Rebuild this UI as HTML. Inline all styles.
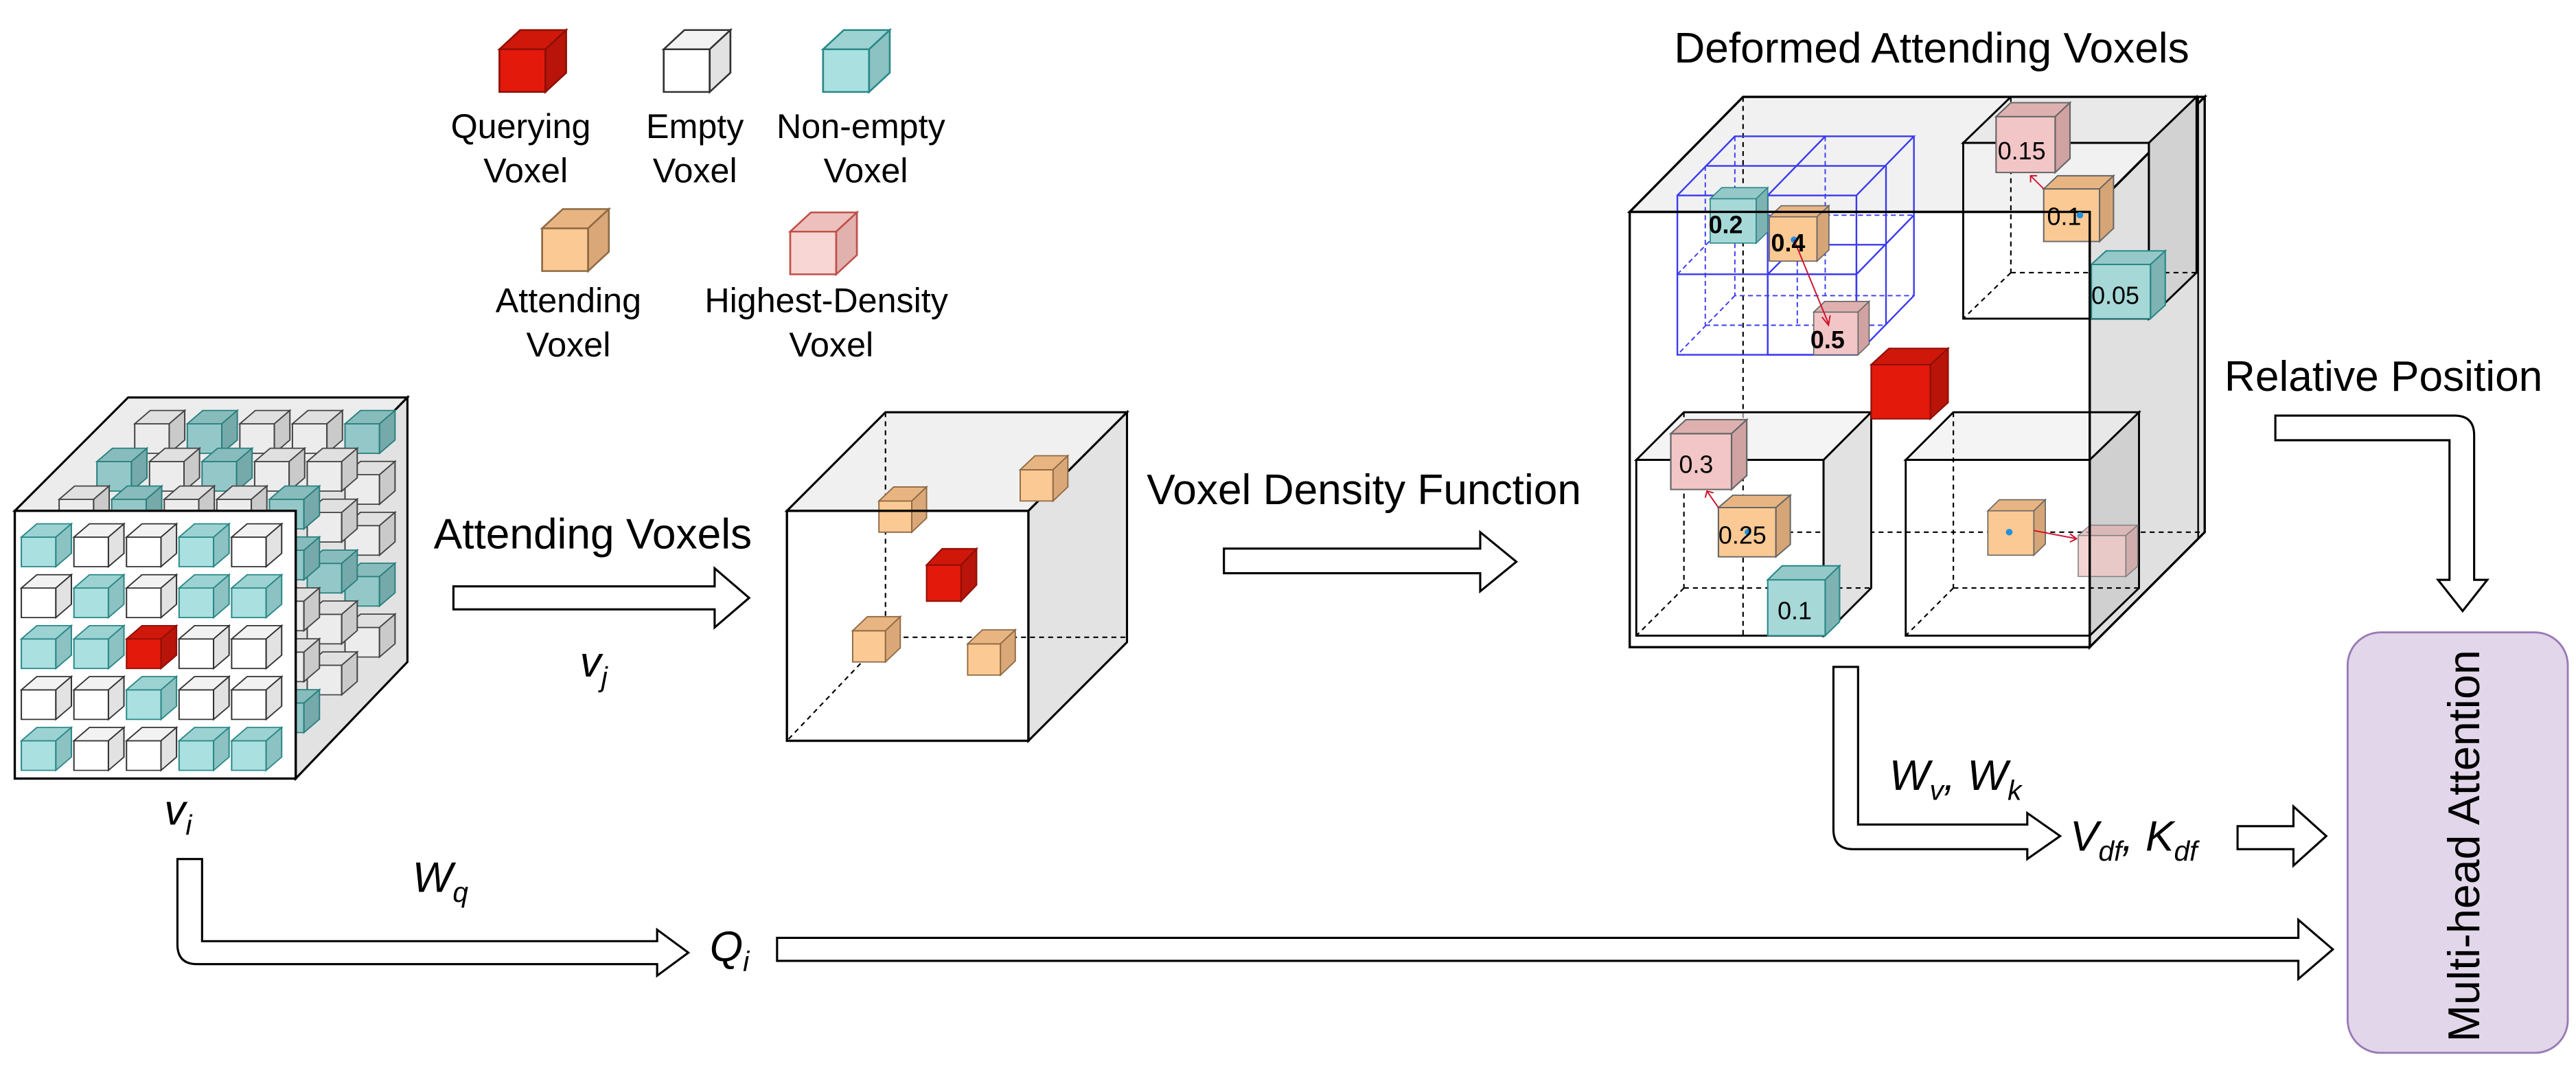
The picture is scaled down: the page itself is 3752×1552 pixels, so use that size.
<!DOCTYPE html>
<html><head><meta charset="utf-8"><style>
html,body{margin:0;padding:0;background:#fff}
svg{display:block}
text{font-family:"Liberation Sans",sans-serif;fill:#000}
</style></head><body>
<svg width="3752" height="1552" viewBox="0 0 1568 649" preserveAspectRatio="none" xmlns="http://www.w3.org/2000/svg">
<defs>
<g id="R" stroke="#8e0f06" stroke-width="0.8"><path d="M0 0h20v20H0z" fill="#e3190b"/><path d="M0 0l9-9h20l-9 9z" fill="#cf170a"/><path d="M20 0l9-9v20l-9 9z" fill="#b8140a"/></g>
<g id="W" stroke="#333" stroke-width="0.8"><path d="M0 0h20v20H0z" fill="#fff"/><path d="M0 0l9-9h20l-9 9z" fill="#f2f2f2"/><path d="M20 0l9-9v20l-9 9z" fill="#e2e2e2"/></g>
<g id="G" stroke="#444" stroke-width="0.8"><path d="M0 0h20v20H0z" fill="#ececec"/><path d="M0 0l9-9h20l-9 9z" fill="#e0e0e0"/><path d="M20 0l9-9v20l-9 9z" fill="#cacaca"/></g>
<g id="T" stroke="#2a8888" stroke-width="0.8"><path d="M0 0h20v20H0z" fill="#abe0e0"/><path d="M0 0l9-9h20l-9 9z" fill="#9dd2d2"/><path d="M20 0l9-9v20l-9 9z" fill="#8cc2c2"/></g>
<g id="TB" stroke="#2a7f7f" stroke-width="0.8"><path d="M0 0h20v20H0z" fill="#94c8c8"/><path d="M0 0l9-9h20l-9 9z" fill="#88bcbc"/><path d="M20 0l9-9v20l-9 9z" fill="#76a9a9"/></g>
<g id="O" stroke="#8f6a44" stroke-width="0.8"><path d="M0 0h20v20H0z" fill="#fbc993"/><path d="M0 0l9-9h20l-9 9z" fill="#e8b582"/><path d="M20 0l9-9v20l-9 9z" fill="#daa878"/></g>
<g id="P" stroke="#c0504a" stroke-width="0.8"><path d="M0 0h20v20H0z" fill="#f8d6d3"/><path d="M0 0l9-9h20l-9 9z" fill="#eec0bd"/><path d="M20 0l9-9v20l-9 9z" fill="#e0b1ad"/></g>
<g id="R2" stroke="#8e0f06" stroke-width="0.5"><path d="M0 0h20v20H0z" fill="#e3190b"/><path d="M0 0l6-6h20l-6 6z" fill="#cf170a"/><path d="M20 0l6-6v20l-6 6z" fill="#b8140a"/></g>
<g id="T2" stroke="#2a8888" stroke-width="0.5"><path d="M0 0h20v20H0z" fill="#a6d8d8"/><path d="M0 0l5-5h20l-5 5z" fill="#95c8c8"/><path d="M20 0l5-5v20l-5 5z" fill="#7fb2b2"/></g>
<g id="O2" stroke="#666" stroke-width="0.5"><path d="M0 0h20v20H0z" fill="#fbc993"/><path d="M0 0l5-5h20l-5 5z" fill="#e8b582"/><path d="M20 0l5-5v20l-5 5z" fill="#d6a577"/></g>
<g id="P2" stroke="#666" stroke-width="0.5"><path d="M0 0h20v20H0z" fill="#f2c6c6"/><path d="M0 0l5-5h20l-5 5z" fill="#dfb0b0"/><path d="M20 0l5-5v20l-5 5z" fill="#d1a2a2"/></g>
</defs>

<!-- Legend -->
<use href="#R" transform="translate(304,30) scale(1.4,1.3)"/>
<use href="#W" transform="translate(404,30) scale(1.4,1.3)"/>
<use href="#T" transform="translate(501,30) scale(1.4,1.3)"/>
<use href="#O" transform="translate(330,139) scale(1.4,1.3)"/>
<use href="#P" transform="translate(481,141) scale(1.4,1.3)"/>
<g font-size="21" text-anchor="middle">
<text x="317" y="84">Querying</text><text x="320" y="111">Voxel</text>
<text x="423" y="84">Empty</text><text x="423" y="111">Voxel</text>
<text x="524" y="84">Non-empty</text><text x="527" y="111">Voxel</text>
<text x="346" y="190">Attending</text><text x="346" y="217">Voxel</text>
<text x="503" y="190">Highest-Density</text><text x="506" y="217">Voxel</text>
</g>

<!-- Left big cube -->
<polygon points="9,311 78,242 248,242 180,311" fill="#ececec" stroke="#000" stroke-width="1.3"/>
<polygon points="180,311 248,242 248,403 180,474" fill="#e2e2e2" stroke="#000" stroke-width="1.3"/>
<g transform="translate(69,-69)">
<use href="#G" transform="translate(13,327) scale(1.05,0.9)"/><use href="#TB" transform="translate(45,327) scale(1.05,0.9)"/><use href="#G" transform="translate(77,327) scale(1.05,0.9)"/><use href="#G" transform="translate(109,327) scale(1.05,0.9)"/><use href="#TB" transform="translate(141,327) scale(1.05,0.9)"/>
<use href="#G" transform="translate(141,358) scale(1.05,0.9)"/><use href="#G" transform="translate(141,389) scale(1.05,0.9)"/><use href="#TB" transform="translate(141,420) scale(1.05,0.9)"/><use href="#G" transform="translate(141,451) scale(1.05,0.9)"/>
</g>
<g transform="translate(46,-46)">
<use href="#TB" transform="translate(13,327) scale(1.05,0.9)"/><use href="#G" transform="translate(45,327) scale(1.05,0.9)"/><use href="#TB" transform="translate(77,327) scale(1.05,0.9)"/><use href="#G" transform="translate(109,327) scale(1.05,0.9)"/><use href="#G" transform="translate(141,327) scale(1.05,0.9)"/>
<use href="#G" transform="translate(141,358) scale(1.05,0.9)"/><use href="#TB" transform="translate(141,389) scale(1.05,0.9)"/><use href="#G" transform="translate(141,420) scale(1.05,0.9)"/><use href="#G" transform="translate(141,451) scale(1.05,0.9)"/>
</g>
<g transform="translate(23,-23)">
<use href="#G" transform="translate(13,327) scale(1.05,0.9)"/><use href="#TB" transform="translate(45,327) scale(1.05,0.9)"/><use href="#G" transform="translate(77,327) scale(1.05,0.9)"/><use href="#G" transform="translate(109,327) scale(1.05,0.9)"/><use href="#TB" transform="translate(141,327) scale(1.05,0.9)"/>
<use href="#TB" transform="translate(141,358) scale(1.05,0.9)"/><use href="#G" transform="translate(141,389) scale(1.05,0.9)"/><use href="#G" transform="translate(141,420) scale(1.05,0.9)"/><use href="#TB" transform="translate(141,451) scale(1.05,0.9)"/>
</g>
<rect x="9" y="311" width="171" height="163" fill="#fff" stroke="none"/>
<g>
<use href="#T" transform="translate(13,327) scale(1.05,0.9)"/><use href="#W" transform="translate(45,327) scale(1.05,0.9)"/><use href="#W" transform="translate(77,327) scale(1.05,0.9)"/><use href="#T" transform="translate(109,327) scale(1.05,0.9)"/><use href="#W" transform="translate(141,327) scale(1.05,0.9)"/>
<use href="#W" transform="translate(13,358) scale(1.05,0.9)"/><use href="#T" transform="translate(45,358) scale(1.05,0.9)"/><use href="#W" transform="translate(77,358) scale(1.05,0.9)"/><use href="#T" transform="translate(109,358) scale(1.05,0.9)"/><use href="#T" transform="translate(141,358) scale(1.05,0.9)"/>
<use href="#T" transform="translate(13,389) scale(1.05,0.9)"/><use href="#T" transform="translate(45,389) scale(1.05,0.9)"/><use href="#R" transform="translate(77,389) scale(1.05,0.9)"/><use href="#W" transform="translate(109,389) scale(1.05,0.9)"/><use href="#W" transform="translate(141,389) scale(1.05,0.9)"/>
<use href="#W" transform="translate(13,420) scale(1.05,0.9)"/><use href="#W" transform="translate(45,420) scale(1.05,0.9)"/><use href="#T" transform="translate(77,420) scale(1.05,0.9)"/><use href="#W" transform="translate(109,420) scale(1.05,0.9)"/><use href="#W" transform="translate(141,420) scale(1.05,0.9)"/>
<use href="#T" transform="translate(13,451) scale(1.05,0.9)"/><use href="#W" transform="translate(45,451) scale(1.05,0.9)"/><use href="#W" transform="translate(77,451) scale(1.05,0.9)"/><use href="#T" transform="translate(109,451) scale(1.05,0.9)"/><use href="#T" transform="translate(141,451) scale(1.05,0.9)"/>
</g>
<rect x="9" y="311" width="171" height="163" fill="none" stroke="#000" stroke-width="1.4"/>
<text x="100" y="502" font-size="26" font-style="italic">v<tspan font-size="17" dy="6">i</tspan></text>

<!-- Attending Voxels arrow -->
<text x="264" y="334" font-size="26">Attending Voxels</text>
<path d="M276 357H435V346L456 364L435 382V371H276Z" fill="#fff" stroke="#000" stroke-width="1.3"/>
<text x="353" y="412" font-size="26" font-style="italic">v<tspan font-size="17" dy="6">j</tspan></text>

<!-- Middle cube -->
<polygon points="479,311 539,251 686,251 626,311" fill="#f0f0f0" stroke="#000" stroke-width="1.3"/>
<polygon points="626,311 686,251 686,391 626,451" fill="#e3e3e3" stroke="#000" stroke-width="1.3"/>
<g stroke="#000" stroke-width="0.9" stroke-dasharray="3,2.5" fill="none">
<line x1="539" y1="251" x2="539" y2="388"/><line x1="539" y1="388" x2="686" y2="388"/><line x1="539" y1="388" x2="479" y2="451"/>
</g>
<use href="#O" transform="translate(535,305) scale(1,0.95)"/>
<use href="#O" transform="translate(621,286) scale(1,0.95)"/>
<use href="#R" transform="translate(564,344) scale(1.05,1.1)"/>
<use href="#O" transform="translate(519,384) scale(1,0.95)"/>
<use href="#O" transform="translate(589,392) scale(1,0.95)"/>
<rect x="479" y="311" width="147" height="140" fill="none" stroke="#000" stroke-width="1.4"/>

<!-- Density arrow -->
<text x="698" y="307" font-size="26">Voxel Density Function</text>
<path d="M745 334H901V324L923 342L901 360V349H745Z" fill="#fff" stroke="#000" stroke-width="1.3"/>

<!-- Right big cube -->
<text x="1019" y="38" font-size="26">Deformed Attending Voxels</text>
<polygon points="992,129 1061,59 1342,59 1272,129" fill="#f1f1f1" stroke="#000" stroke-width="1.4"/>
<polygon points="1272,129 1342,59 1342,324 1272,394" fill="#e0e0e0" stroke="#000" stroke-width="1.4"/>
<line x1="1338" y1="59" x2="1338" y2="328" stroke="#000" stroke-width="1"/>
<g stroke="#000" stroke-width="0.9" stroke-dasharray="3,2.5" fill="none">
<line x1="1061" y1="59" x2="1061" y2="389"/><line x1="1061" y1="324" x2="1342" y2="324"/>
</g>
<!-- top-right subcube -->
<polygon points="1195,87 1224,59 1337,59 1308,87" fill="#e4e4e4" fill-opacity="0.6" stroke="#000" stroke-width="1.2"/>
<polygon points="1308,87 1337,59 1337,166 1308,194" fill="#d2d2d2" stroke="#000" stroke-width="1.2"/>
<g stroke="#000" stroke-width="0.9" stroke-dasharray="3,2.5" fill="none">
<line x1="1224" y1="59" x2="1224" y2="166"/><line x1="1224" y1="166" x2="1337" y2="166"/><line x1="1224" y1="166" x2="1195" y2="194"/>
</g>
<rect x="1195" y="87" width="113" height="107" fill="none" stroke="#000" stroke-width="1.2"/>
<!-- bottom-left subcube -->
<polygon points="996,280 1025,251 1139,251 1110,280" fill="#ececec" fill-opacity="0.6" stroke="#000" stroke-width="1.2"/>
<polygon points="1110,280 1139,251 1139,358 1110,387" fill="#e2e2e2" stroke="#000" stroke-width="1.2"/>
<g stroke="#000" stroke-width="0.9" stroke-dasharray="3,2.5" fill="none">
<line x1="1025" y1="251" x2="1025" y2="358"/><line x1="1025" y1="358" x2="1139" y2="358"/><line x1="1025" y1="358" x2="996" y2="387"/>
</g>
<rect x="996" y="280" width="114" height="107" fill="none" stroke="#000" stroke-width="1.2"/>
<!-- bottom-right subcube -->
<polygon points="1160,280 1189,251 1302,251 1272,280" fill="#ececec" fill-opacity="0.6" stroke="#000" stroke-width="1.2"/>
<polygon points="1272,280 1302,251 1302,358 1272,387" fill="#d0d0d0" stroke="#000" stroke-width="1.2"/>
<g stroke="#000" stroke-width="0.9" stroke-dasharray="3,2.5" fill="none">
<line x1="1189" y1="251" x2="1189" y2="358"/><line x1="1189" y1="358" x2="1302" y2="358"/><line x1="1189" y1="358" x2="1160" y2="387"/>
</g>
<rect x="1160" y="280" width="112" height="107" fill="none" stroke="#000" stroke-width="1.2"/>

<!-- blue grid -->
<g stroke="#3a3af0" stroke-width="1" fill="none">
<rect x="1021" y="119" width="109" height="97"/>
<line x1="1076" y1="119" x2="1076" y2="216"/><line x1="1021" y1="167" x2="1130" y2="167"/>
<polyline points="1021,119 1056,83 1165,83 1130,119"/>
<line x1="1076" y1="119" x2="1111" y2="83"/><line x1="1038" y1="101" x2="1148" y2="101"/>
<polyline points="1165,83 1165,180 1130,216"/>
<line x1="1130" y1="167" x2="1165" y2="131"/><line x1="1148" y1="101" x2="1148" y2="198"/>
<rect x="1076" y="167" width="54" height="49"/>
<polyline points="1076,167 1094,149 1148,149"/>
</g>
<g stroke="#3a3af0" stroke-width="0.8" fill="none" stroke-dasharray="3,2">
<polyline points="1056,83 1056,180 1165,180"/><line x1="1056" y1="180" x2="1021" y2="216"/>
<line x1="1111" y1="83" x2="1111" y2="180"/><line x1="1056" y1="131" x2="1165" y2="131"/>
<line x1="1038" y1="101" x2="1038" y2="198"/><line x1="1038" y1="198" x2="1148" y2="198"/>
<line x1="1021" y1="167" x2="1056" y2="131"/><line x1="1094" y1="149" x2="1094" y2="198"/>
</g>

<!-- cubes with values -->
<use href="#P2" transform="translate(1215,71) scale(1.8,1.7)"/>
<use href="#O2" transform="translate(1244,115) scale(1.7,1.6)"/>
<use href="#T2" transform="translate(1273,161) scale(1.8,1.65)"/>
<use href="#T2" transform="translate(1041,121) scale(1.4,1.35)"/>
<use href="#O2" transform="translate(1077,132) scale(1.45,1.35)"/>
<use href="#P2" transform="translate(1104,190) scale(1.35,1.3)"/>
<use href="#R2" transform="translate(1139,222) scale(1.8,1.65)"/>
<use href="#P2" transform="translate(1017,264) scale(1.85,1.7)"/>
<use href="#O2" transform="translate(1046,309) scale(1.75,1.5)"/>
<use href="#T2" transform="translate(1076,353) scale(1.75,1.7)"/>
<use href="#O2" transform="translate(1210,311) scale(1.4,1.35)"/>
<g opacity="0.75"><use href="#P2" transform="translate(1265,326) scale(1.45,1.25)"/></g>
<!-- big cube front face -->
<rect x="992" y="129" width="280" height="265" fill="none" stroke="#000" stroke-width="1.4"/>
<circle cx="1092" cy="146" r="2" fill="#1e90e0"/>
<circle cx="1266" cy="131" r="2" fill="#1e90e0"/>
<circle cx="1064" cy="324" r="2" fill="#1e90e0"/>
<circle cx="1223" cy="324" r="2" fill="#1e90e0"/>
<g stroke="#d0102a" stroke-width="0.8" fill="none">
<line x1="1092" y1="146" x2="1113" y2="197"/><path d="M1109 193l4 5 1-6"/>
<line x1="1046" y1="309" x2="1039" y2="299"/><path d="M1038 303l1-4 4 1"/>
<line x1="1244" y1="115" x2="1236" y2="107"/><path d="M1236 111l0-4 4 0"/>
<line x1="1238" y1="323" x2="1264" y2="328"/><path d="M1260 325l4 3-4 2"/>
</g>
<g font-size="15">
<text x="1216" y="97">0.15</text>
<text x="1246" y="137">0.1</text>
<text x="1273" y="185">0.05</text>
<text x="1040" y="142" font-weight="bold">0.2</text>
<text x="1078" y="153" font-weight="bold">0.4</text>
<text x="1102" y="212" font-weight="bold">0.5</text>
<text x="1022" y="288">0.3</text>
<text x="1046" y="331">0.25</text>
<text x="1082" y="377">0.1</text>
</g>

<!-- Relative position -->
<text x="1354" y="238" font-size="26">Relative Position</text>
<path d="M1385 253H1494Q1506 253 1506 265V353H1514L1499 372L1484 353H1491V268H1385Z" fill="#fff" stroke="#000" stroke-width="1.3"/>

<!-- Wv Wk -->
<path d="M1116 406H1131V502H1234V495L1254 509L1234 523V517H1128Q1116 517 1116 505Z" fill="#fff" stroke="#000" stroke-width="1.3"/>
<text x="1150" y="481" font-size="26" font-style="italic">W<tspan font-size="17" dy="6">v</tspan><tspan dy="-6">, W</tspan><tspan font-size="17" dy="6">k</tspan></text>
<text x="1260" y="518" font-size="26" font-style="italic">V<tspan font-size="17" dy="6">df</tspan><tspan dy="-6">, K</tspan><tspan font-size="17" dy="6">df</tspan></text>
<path d="M1362 503H1396V491L1416 509L1396 527V517H1362Z" fill="#fff" stroke="#000" stroke-width="1.3"/>

<!-- Wq / Qi -->
<path d="M108 523H123V573H400V566L419 580L400 594V587H120Q108 587 108 575Z" fill="#fff" stroke="#000" stroke-width="1.3"/>
<text x="251" y="543" font-size="26" font-style="italic">W<tspan font-size="17" dy="6">q</tspan></text>
<text x="432" y="585" font-size="26" font-style="italic">Q<tspan font-size="17" dy="6">i</tspan></text>
<path d="M473 571H1399V560L1420 578L1399 596V585H473Z" fill="#fff" stroke="#000" stroke-width="1.3"/>

<!-- Multi-head attention -->
<rect x="1429" y="385" width="134" height="256" rx="20" fill="#e2d6ea" stroke="#9a7ab5" stroke-width="1.2"/>
<text transform="translate(1509,515) rotate(-90)" font-size="27" text-anchor="middle">Multi-head Attention</text>
</svg>
</body></html>
